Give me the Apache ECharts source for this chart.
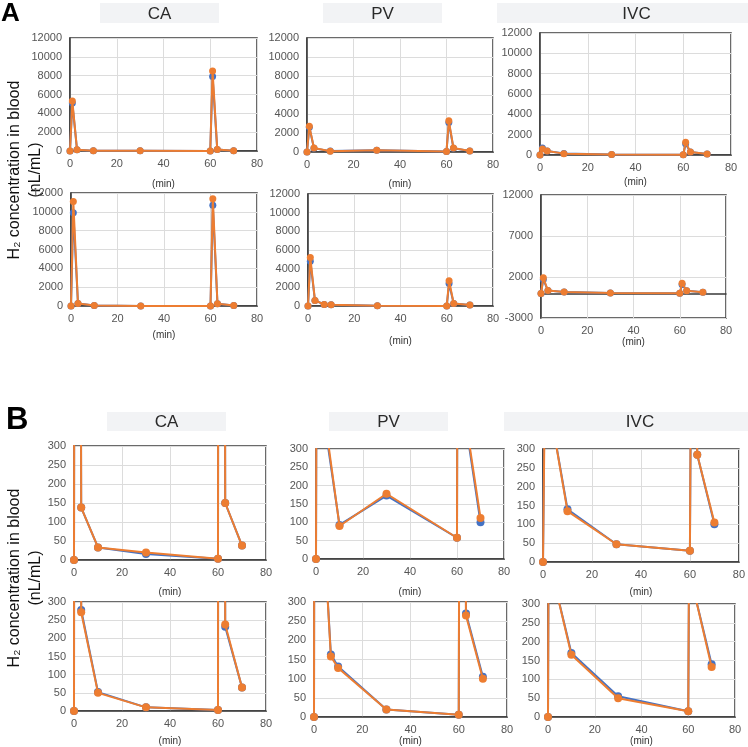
<!DOCTYPE html>
<html>
<head>
<meta charset="utf-8">
<script src="https://cdn.jsdelivr.net/npm/echarts@6/dist/echarts.min.js"></script>
<style>html,body{margin:0;padding:0;background:#fff}#c{width:748px;height:747px}</style>
</head>
<body>
<div id="c"></div>
<script>
// ---- data ----
const times = [0, 1, 3, 10, 30, 60, 61, 63, 70];
const timesPV2 = [0, 1, 3, 7, 10, 30, 60, 61, 63, 70];

const caBlue1 = [0, 5100, 138, 33, 16, 3, 7900, 150, 38];
const caOrange1 = [0, 5300, 138, 33, 20, 3, 8500, 150, 38];
const caBlue2 = [0, 9900, 278, 52, 10, 3, 10700, 232, 65];
const caOrange2 = [0, 11100, 272, 50, 10, 3, 11400, 238, 65];

const pvBlue1 = [0, 2600, 400, 93, 173, 58, 3100, 400, 100];
const pvOrange1 = [0, 2700, 420, 90, 178, 58, 3300, 410, 112];
const pvBlue2 = [0, 4800, 600, 163, 132, 20, 6, 2400, 270, 105];
const pvOrange2 = [0, 5200, 600, 158, 128, 20, 6, 2700, 265, 100];

const ivcBlue1 = [0, 700, 400, 140, 47, 30, 1100, 285, 100];
const ivcOrange1 = [0, 600, 400, 135, 47, 30, 1250, 285, 105];
const ivcBlue2 = [0, 1700, 350, 170, 55, 15, 1100, 320, 140];
const ivcOrange2 = [0, 1900, 350, 165, 50, 15, 1250, 320, 133];

const vessels = ['CA', 'PV', 'IVC'];
const xTicks = {min: 0, max: 80, interval: 20};
const yTicksA = {min: 0, max: 12000, interval: 2000};
const yTicksA_IVC2 = {min: -3000, max: 12000, interval: 5000};
const yTicksB = {min: 0, max: 300, interval: 50};
const xName = '(min)';
const yTitle = 'H\u2082 concentration in blood\n(nL/mL)';

// ---- layout ----
const panels = [
  // panel A
  {g:[70,38,187,113], t:times, b:caBlue1, o:caOrange1, y:yTicksA, ng:28},
  {g:[307,38,186,114], t:times, b:pvBlue1, o:pvOrange1, y:yTicksA, ng:27},
  {g:[540,33,191,122], t:times, b:ivcBlue1, o:ivcOrange1, y:yTicksA, ng:22},
  {g:[71,193,186,113], t:times, b:caBlue2, o:caOrange2, y:yTicksA, ng:24},
  {g:[308,194,185,112], t:timesPV2, b:pvBlue2, o:pvOrange2, y:yTicksA, ng:30},
  {g:[541,195,185,123], t:times, b:ivcBlue2, o:ivcOrange2, y:yTicksA_IVC2, ng:13},
  // panel B
  {g:[74,446,192,114], t:times, b:caBlue1, o:caOrange1, y:yTicksB, ng:27, B:true},
  {g:[316,449,188,110], t:times, b:pvBlue1, o:pvOrange1, y:yTicksB, ng:28, B:true},
  {g:[543,449,196,113], t:times, b:ivcBlue1, o:ivcOrange1, y:yTicksB, ng:25, B:true},
  {g:[74,602,192,115], t:times, b:caBlue2, o:caOrange2, y:yTicksB, ng:25, B:true},
  {g:[314,602,193,120], t:timesPV2, b:pvBlue2, o:pvOrange2, y:yTicksB, ng:18, B:true},
  {g:[548,604,187,118], t:times, b:ivcBlue2, o:ivcOrange2, y:yTicksB, ng:19, B:true}
];

const FONT = '"Liberation Sans", Arial, Helvetica, sans-serif';
const BLUE = '#4472C4', ORANGE = '#ED7D31';
const grid = [], xAxis = [], yAxis = [], series = [];
panels.forEach((p, i) => {
  grid.push({left:p.g[0], top:p.g[1], width:p.g[2], height:p.g[3], show:true,
    borderColor:'#3a3a3a', borderWidth:1.5, backgroundColor:'transparent', containLabel:false});
  xAxis.push({gridIndex:i, type:'value', min:xTicks.min, max:xTicks.max, interval:xTicks.interval,
    name:xName, nameLocation:'middle', nameGap:p.ng,
    nameTextStyle:{fontSize:10, color:'#333', fontFamily:FONT},
    axisLine:{show:true, lineStyle:{color:'#3a3a3a', width:1.5}},
    axisTick:{show:false},
    axisLabel:{fontSize:11, color:'#555', fontFamily:FONT, margin:7},
    splitLine:{show:true, lineStyle:{color:'#dcdcdc', width:1}}});
  yAxis.push({gridIndex:i, type:'value', min:p.y.min, max:p.y.max, interval:p.y.interval,
    axisLine:{show:true, onZero:false, lineStyle:{color:'#3a3a3a', width:1.5}},
    axisTick:{show:false},
    axisLabel:{fontSize:11, color:'#555', fontFamily:FONT, margin:8, formatter:v => String(v)},
    splitLine:{show:true, lineStyle:{color:'#dcdcdc', width:1}}});
  const mk = (vals, color, z) => ({
    type:'line', xAxisIndex:i, yAxisIndex:i, clip:true, z:z,
    data:p.t.map((t, k) => [t, vals[k]]),
    symbol:'circle', symbolSize:p.B ? 8 : 7, showSymbol:true,
    lineStyle:{color:color, width:2}, itemStyle:{color:color}, animation:false
  });
  series.push(mk(p.b, BLUE, 2));
  series.push(mk(p.o, ORANGE, 3));
});

// ---- titles / annotations ----
const graphic = [];
const titleBoxes = [
  [100,3,119,20], [323,3,119,20], [497,3,251,20],
  [107,412,119,19], [329,412,119,19], [504,412,244,19]
];
titleBoxes.forEach((b, k) => {
  graphic.push({type:'rect', shape:{x:b[0], y:b[1], width:b[2], height:b[3]},
    style:{fill:'#f2f3f5'}, silent:true, z:0});
  graphic.push({type:'text', x:b[0] + b[2]/2 + (k % 3 === 2 ? 14 : 0), y:b[1] + b[3]/2 + 1,
    style:{text:vessels[k % 3], fill:'#2a2a2a', font:'17px ' + FONT, align:'center', verticalAlign:'middle'}, z:1});
});
graphic.push({type:'text', x:1, y:1, style:{text:'A', fill:'#000', font:'bold 26px ' + FONT, align:'left', verticalAlign:'top'}});
graphic.push({type:'text', x:6, y:405, style:{text:'B', fill:'#000', font:'bold 31px ' + FONT, align:'left', verticalAlign:'top'}});
[170, 578].forEach(cy => {
  graphic.push({type:'text', x:25, y:cy, rotation:Math.PI/2,
    style:{text:yTitle, fill:'#111', font:'16px ' + FONT, align:'center', verticalAlign:'middle', lineHeight:21}});
});

const chart = echarts.init(document.getElementById('c'), null, {renderer:'canvas'});
chart.setOption({animation:false, backgroundColor:'#fff', grid, xAxis, yAxis, series, graphic});
</script>
</body>
</html>
